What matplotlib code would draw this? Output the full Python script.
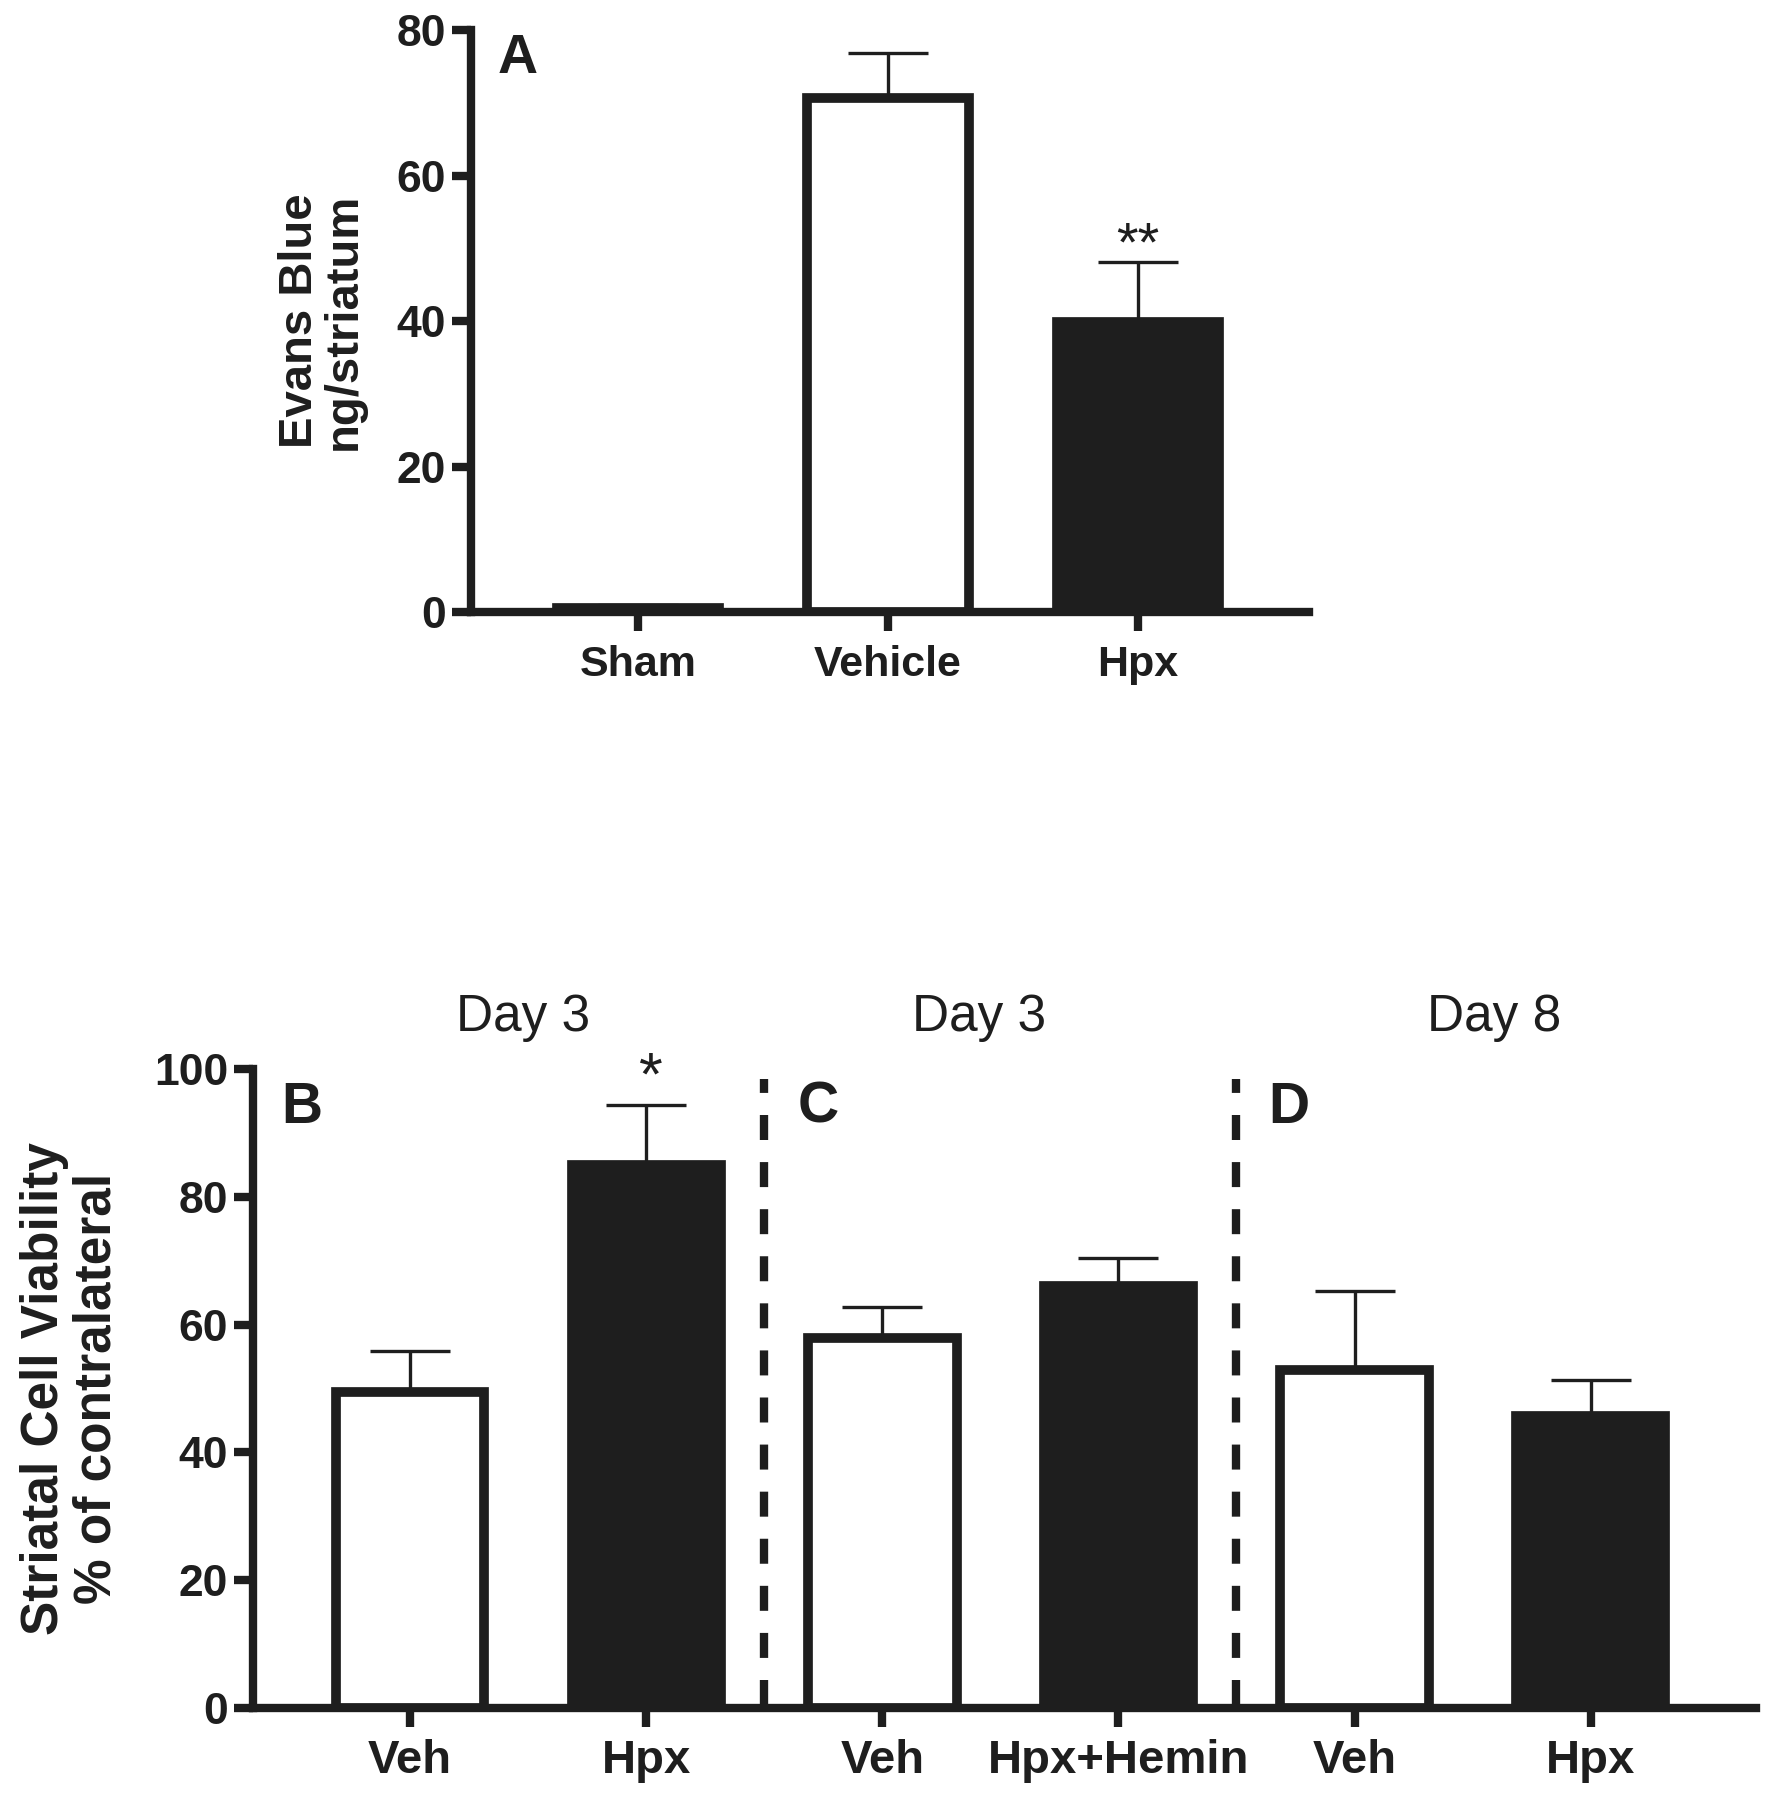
import matplotlib
matplotlib.use('Agg')
import matplotlib.pyplot as plt

#######################################################################
# Data
#######################################################################
a_groups = ['Sham', 'Vehicle', 'Hpx']
a_means = [0.5, 70.7, 39.8]
a_errs = [0.4, 6.2, 8.3]
a_fill = ['white', 'white', '#1e1e1e']

bcd_groups = ['Veh', 'Hpx', 'Veh', 'Hpx+Hemin', 'Veh', 'Hpx']
bcd_means = [49.5, 85.0, 57.9, 66.1, 52.9, 45.7]
bcd_errs = [6.4, 9.4, 4.8, 4.3, 12.3, 5.7]
bcd_fill = ['white', '#1e1e1e', 'white', '#1e1e1e', 'white', '#1e1e1e']
day_titles = ['Day 3', 'Day 3', 'Day 8']
day_title_x = [0.48, 2.41, 4.59]
panel_letters = ['B', 'C', 'D']
panel_letter_x = [-0.46, 1.73, 3.72]

FONT = ['Liberation Sans', 'DejaVu Sans']
INK = '#1e1e1e'
plt.rcParams['font.family'] = FONT

fig = plt.figure(figsize=(17.68, 18), dpi=100)


def style_axes(ax, tick_size):
    for s in ['top', 'right']:
        ax.spines[s].set_visible(False)
    for s in ['left', 'bottom']:
        ax.spines[s].set_linewidth(6)
        ax.spines[s].set_color(INK)
    ax.tick_params(axis='both', width=6, length=14, color=INK,
                   labelsize=tick_size, pad=4)
    for lab in ax.get_xticklabels() + ax.get_yticklabels():
        lab.set_fontweight('bold')
        lab.set_color(INK)


def draw_bars(ax, means, errs, fills, width):
    x = list(range(len(means)))
    ax.errorbar(x, means, yerr=[[0] * len(errs), errs], fmt='none',
                ecolor=INK, elinewidth=2.4, capsize=29, capthick=2.4, zorder=1)
    ax.bar(x, means, width=width, color=fills, edgecolor=INK,
           linewidth=7, zorder=2)


#######################################################################
# Panel A
#######################################################################
axA = fig.add_axes([0.2664, 0.66, 0.474, 0.3233])
draw_bars(axA, a_means, a_errs, a_fill, 0.65)
axA.set_xlim(-0.668, 2.684)
axA.set_ylim(0, 80)
axA.set_yticks([0, 20, 40, 60, 80])
axA.set_xticks(range(len(a_groups)))
axA.set_xticklabels(a_groups)
style_axes(axA, 32)
axA.tick_params(axis='x', pad=10, labelsize=31)
axA.set_ylabel('Evans Blue\nng/striatum', fontsize=34, fontweight='bold',
               color=INK, labelpad=22, linespacing=1.0)
axA.text(-0.48, 76, 'A', fontsize=40, fontweight='bold', color=INK,
         ha='center', va='center')
axA.text(2, 50.3, '**', fontsize=40, color=INK, ha='center', va='center')

#######################################################################
# Panels B, C, D
#######################################################################
axB = fig.add_axes([0.1431, 0.0511, 0.8501, 0.355])
draw_bars(axB, bcd_means, bcd_errs, bcd_fill, 0.63)
axB.set_xlim(-0.665, 5.70)
axB.set_ylim(0, 100)
axB.set_yticks([0, 20, 40, 60, 80, 100])
axB.set_xticks(range(len(bcd_groups)))
axB.set_xticklabels(bcd_groups)
style_axes(axB, 32)
axB.tick_params(axis='x', pad=8, labelsize=34)
axB.set_ylabel('Striatal Cell Viability\n% of contralateral', fontsize=37,
               fontweight='bold', color=INK, labelpad=23, linespacing=1.1)

for xv in [1.5, 3.5]:
    axB.axvline(xv, ymin=0.005, ymax=0.985, color=INK, linewidth=6,
                linestyle=(0, (3.0, 2.65)), dash_capstyle='butt', zorder=3)

for title, tx in zip(day_titles, day_title_x):
    axB.text(tx, 108, title, fontsize=37, color=INK,
             ha='center', va='center', clip_on=False)
for letter, lx in zip(panel_letters, panel_letter_x):
    axB.text(lx, 93.9, letter, fontsize=41, fontweight='bold', color=INK,
             ha='center', va='center')

axB.text(1.02, 98.5, '*', fontsize=44, color=INK, ha='center', va='center',
         clip_on=False)

fig.savefig('out.png', dpi=100, facecolor='white')
